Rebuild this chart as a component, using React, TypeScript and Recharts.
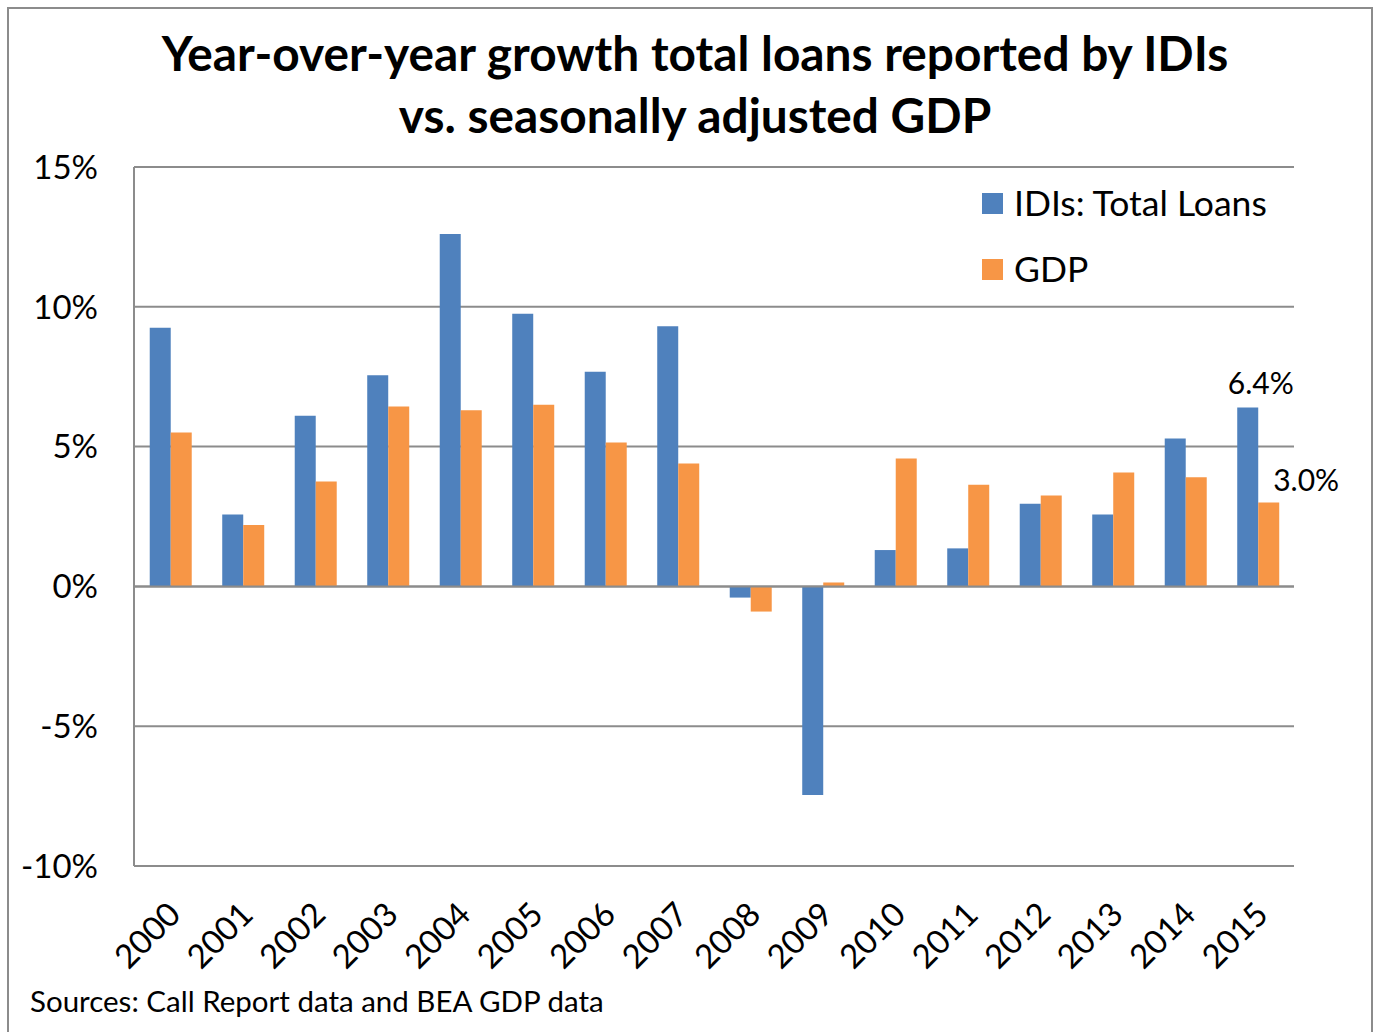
import React from 'react';
import { BarChart, Bar, XAxis, YAxis, CartesianGrid, ReferenceLine, LabelList } from 'recharts';

const years = ['2000', '2001', '2002', '2003', '2004', '2005', '2006', '2007', '2008', '2009', '2010', '2011', '2012', '2013', '2014', '2015'];
const idiLoans = [9.25, 2.57, 6.1, 7.55, 12.6, 9.75, 7.68, 9.3, -0.4, -7.46, 1.3, 1.36, 2.96, 2.57, 5.29, 6.4];
const gdp = [5.5, 2.2, 3.75, 6.43, 6.3, 6.5, 5.15, 4.4, -0.9, 0.14, 4.57, 3.64, 3.25, 4.07, 3.9, 3.0];
const yTicks = [-10, -5, 0, 5, 10, 15];

const data = years.map((year, i) => ({ year, idi: idiLoans[i], gdp: gdp[i] }));

const FONT = 'Lato, "Open Sans", sans-serif';
const BLUE = '#4F81BD';
const ORANGE = '#F79646';
const GRID = '#8C8C8C';

const lastIndex = years.length - 1;

function XTick(props: any) {
  const { x, y, payload } = props;
  return (
    <g transform={`translate(${x - 4},${y + 26})`}>
      <text transform="rotate(-45)" textAnchor="end" dy="0.7em" fontSize={33} fill="#000" fontFamily={FONT}>
        {payload.value}
      </text>
    </g>
  );
}

function IdiLabel(props: any) {
  const { x, y, width, index, value } = props;
  if (index !== lastIndex) return null;
  return (
    <text x={x + width / 2 + 13} y={y - 13} textAnchor="middle" fontSize={30} fontFamily={FONT} fill="#000">
      {value.toFixed(1)}%
    </text>
  );
}

function GdpLabel(props: any) {
  const { x, y, width, index, value } = props;
  if (index !== lastIndex) return null;
  return (
    <text x={x + width - 6} y={y - 12} textAnchor="start" fontSize={30} fontFamily={FONT} fill="#000">
      {value.toFixed(1)}%
    </text>
  );
}

export default function App() {
  return (
    <div style={{ position: 'absolute', left: 0, top: 0, width: 1382, height: 1032, background: '#fff', fontFamily: FONT }}>
      <div style={{ position: 'absolute', left: 7, top: 7, width: 1366, height: 1030, border: '2px solid #8C8C8C', boxSizing: 'border-box' }} />
      <div style={{ position: 'absolute', left: 0, top: 22, width: 1390, textAlign: 'center', fontSize: 47.8, fontWeight: 700, lineHeight: '62px', color: '#000' }}>
        Year-over-year growth total loans reported by IDIs
        <br />
        vs. seasonally adjusted GDP
      </div>
      <div style={{ position: 'absolute', left: 0, top: 0 }}>
        <BarChart
          width={1382}
          height={1032}
          data={data}
          margin={{ top: 167, right: 88, bottom: 0, left: 0 }}
          barCategoryGap="21.7%"
          barGap={0}
        >
          <CartesianGrid vertical={false} stroke={GRID} strokeWidth={2} />
          <XAxis dataKey="year" tick={<XTick />} tickLine={false} axisLine={false} interval={0} height={166} />
          <YAxis
            type="number"
            domain={[-10, 15]}
            ticks={yTicks}
            width={134}
            tickFormatter={(v: number) => `${v}%`}
            tick={{ fontSize: 33, fill: '#000', fontFamily: FONT }}
            tickLine={false}
            tickMargin={30}
            axisLine={{ stroke: GRID, strokeWidth: 2 }}
          />
          <ReferenceLine y={0} stroke={GRID} strokeWidth={2} />
          <Bar dataKey="idi" name="IDIs: Total Loans" fill={BLUE} isAnimationActive={false}>
            <LabelList dataKey="idi" content={<IdiLabel />} />
          </Bar>
          <Bar dataKey="gdp" name="GDP" fill={ORANGE} isAnimationActive={false}>
            <LabelList dataKey="gdp" content={<GdpLabel />} />
          </Bar>
        </BarChart>
      </div>
      <div style={{ position: 'absolute', left: 982, top: 180, fontSize: 35.5, lineHeight: '46px', color: '#000' }}>
        <div style={{ display: 'flex', alignItems: 'center' }}>
          <span style={{ display: 'inline-block', width: 21, height: 21, background: BLUE, marginRight: 11 }} />
          IDIs: Total Loans
        </div>
        <div style={{ display: 'flex', alignItems: 'center', marginTop: 20 }}>
          <span style={{ display: 'inline-block', width: 21, height: 21, background: ORANGE, marginRight: 11 }} />
          GDP
        </div>
      </div>
      <div style={{ position: 'absolute', left: 30, top: 983, fontSize: 29.5, color: '#000' }}>
        Sources: Call Report data and BEA GDP data
      </div>
    </div>
  );
}
